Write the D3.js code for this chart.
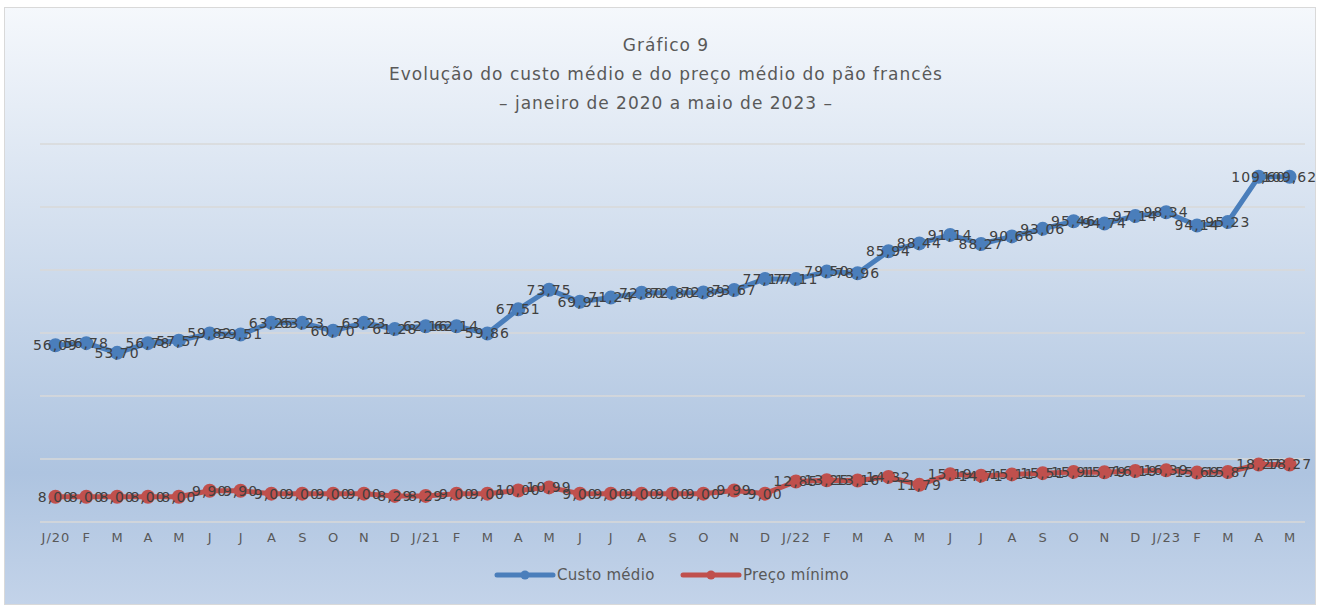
<!DOCTYPE html>
<html>
<head>
<meta charset="utf-8">
<script src="https://cdn.jsdelivr.net/npm/d3@7"></script>
<style>
  body { margin: 0; background: #fff; }
  svg { display: block; }
</style>
</head>
<body>
<svg width="1319" height="605"></svg>
<script>
var months = ["J/20","F","M","A","M","J","J","A","S","O","N","D",
              "J/21","F","M","A","M","J","J","A","S","O","N","D",
              "J/22","F","M","A","M","J","J","A","S","O","N","D",
              "J/23","F","M","A","M"]
var custoMedio = [56.09,56.78,53.70,56.78,57.57,59.82,59.51,63.25,63.23,60.70,63.23,61.28,
                  62.16,62.14,59.86,67.51,73.75,69.91,71.24,72.80,72.80,72.89,73.67,77.17,
                  77.11,79.50,78.96,85.94,88.44,91.14,88.27,90.66,93.06,95.46,94.74,97.14,
                  98.34,94.14,95.23,109.60,109.62]
var precoMinimo = [8.00,8.00,8.00,8.00,8.00,9.90,9.90,9.00,9.00,9.00,9.00,8.29,
                   8.29,9.00,9.00,10.00,10.99,9.00,9.00,9.00,9.00,9.00,9.99,9.00,
                   12.85,13.25,13.16,14.32,11.79,15.19,14.71,15.11,15.51,15.91,15.79,16.19,
                   16.39,15.69,15.87,18.27,18.27]
var yTicks = [0,20,40,60,80,100,120]
var titleLines = ["Gráfico 9",
                  "Evolução do custo médio e do preço médio do pão francês",
                  "– janeiro de 2020 a maio de 2023 –"]
var series = [
  {name: "Custo médio", values: custoMedio, color: "#4a7ebb"},
  {name: "Preço mínimo", values: precoMinimo, color: "#c0504d"}
]

var width = 1319, height = 605
var font = "'DejaVu Sans', sans-serif"
const svg = d3.select("svg")

const defs = svg.append("defs")
const grad = defs.append("linearGradient")
  .attr("id", "bg").attr("x1", 0).attr("y1", 0).attr("x2", 0).attr("y2", 1)
grad.append("stop").attr("offset", "0%").attr("stop-color", "#f5f8fc")
grad.append("stop").attr("offset", "78%").attr("stop-color", "#aec4e0")
grad.append("stop").attr("offset", "100%").attr("stop-color", "#c3d3e9")

svg.append("rect")
  .attr("x", 4.5).attr("y", 7.5)
  .attr("width", 1311).attr("height", 597)
  .attr("fill", "url(#bg)")
  .attr("stroke", "#d9d9d9")

const x = d3.scalePoint()
  .domain(d3.range(months.length))
  .range([40, 1305])
  .padding(0.5)

const y = d3.scaleLinear()
  .domain([0, 120])
  .range([522, 144])

// gridlines
svg.append("g")
  .selectAll("line")
  .data(yTicks)
  .join("line")
  .attr("x1", 40).attr("x2", 1305)
  .attr("y1", d => y(d)).attr("y2", d => y(d))
  .attr("stroke", "#d9d9d9")
  .attr("stroke-width", 1.5)

// title
svg.append("g")
  .selectAll("text")
  .data(titleLines)
  .join("text")
  .attr("x", 666)
  .attr("y", (d, i) => 51 + i * 29)
  .attr("text-anchor", "middle")
  .attr("fill", "#595959")
  .style("font", "17px " + font)
  .style("letter-spacing", "1px")
  .text(d => d)

// x axis labels
const xAxis = d3.axisBottom(x)
  .tickSize(0)
  .tickFormat(i => months[i])
svg.append("g")
  .attr("transform", "translate(0,530)")
  .call(xAxis)
  .call(g => g.select(".domain").remove())
  .call(g => g.selectAll("text")
    .attr("fill", "#595959")
    .style("font", "13px " + font)
    .style("letter-spacing", "1px"))

const line = d3.line()
  .x((d, i) => x(i))
  .y(d => y(d))

const s = svg.selectAll(".series")
  .data(series)
  .join("g")
  .attr("class", "series")

s.append("path")
  .attr("d", d => line(d.values))
  .attr("fill", "none")
  .attr("stroke", d => d.color)
  .attr("stroke-width", 5)
  .attr("stroke-linejoin", "round")

s.selectAll("circle")
  .data(d => d.values.map((v, i) => ({v: v, i: i, color: d.color})))
  .join("circle")
  .attr("cx", d => x(d.i))
  .attr("cy", d => y(d.v))
  .attr("r", 7)
  .attr("fill", d => d.color)

const fmt = v => v.toFixed(2).replace(".", ",")
s.selectAll("text.lbl")
  .data(d => d.values.map((v, i) => ({v: v, i: i})))
  .join("text")
  .attr("class", "lbl")
  .attr("x", d => x(d.i))
  .attr("y", d => y(d.v))
  .attr("dy", "0.35em")
  .attr("text-anchor", "middle")
  .attr("fill", "#404040")
  .style("font", "14px " + font)
  .style("letter-spacing", "1px")
  .text(d => fmt(d.v))

// legend
const legendX = [497, 683]
const lg = svg.append("g")
  .selectAll("g")
  .data(series)
  .join("g")
  .attr("transform", (d, i) => `translate(${legendX[i]},575)`)
lg.append("line")
  .attr("x1", 0).attr("x2", 56)
  .attr("stroke", d => d.color)
  .attr("stroke-width", 5)
  .attr("stroke-linecap", "round")
lg.append("circle")
  .attr("cx", 28).attr("r", 4.5)
  .attr("fill", d => d.color)
lg.append("text")
  .attr("x", 60)
  .attr("dy", "0.35em")
  .attr("fill", "#595959")
  .style("font", "15px " + font)
  .style("letter-spacing", "0.3px")
  .text(d => d.name)
</script>
</body>
</html>
